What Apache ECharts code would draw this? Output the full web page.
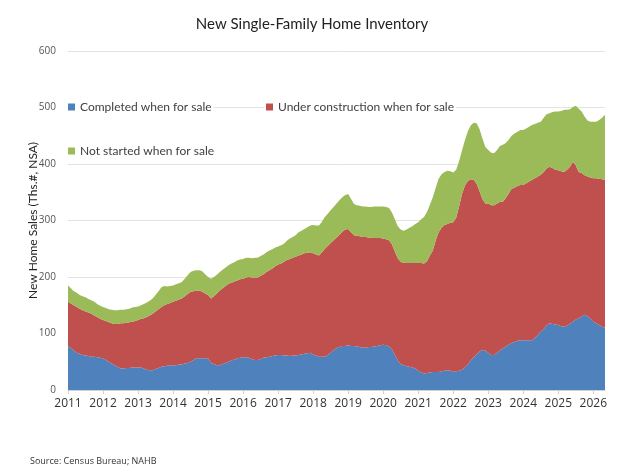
<!DOCTYPE html>
<html>
<head>
<meta charset="utf-8">
<script src="https://cdn.jsdelivr.net/npm/echarts@6/dist/echarts.min.js"></script>
<style>
  html, body { margin: 0; padding: 0; background: #fff; }
  #cnv { width: 624px; height: 472px; }
</style>
</head>
<body>
<div id="cnv"></div>
<script>
// monthly, Jan 2011 .. May 2026 (thousands, NSA)
var completed = [
  78,74,70,66,64,62,61,60,59,59,58,57,
  56,53,50,47,44,41,38,38,39,39,40,40,
  40,40,38,36,35,35,37,39,41,42,43,44,
  44,44,45,45,47,48,50,53,56,56,56,56,
  56,48,46,44,44,46,48,50,52,54,56,57,
  58,58,57,55,53,53,55,57,58,59,60,61,
  62,62,61,61,60,61,61,62,63,64,65,66,
  63,61,59,59,59,62,66,71,74,76,78,78,
  79,78,78,77,76,75,75,76,76,77,78,79,
  80,79,77,72,62,52,46,44,42,41,40,38,
  34,31,29,30,31,32,32,32,33,34,35,34,
  32,33,34,36,40,45,52,58,63,68,71,70,
  66,62,62,66,70,74,77,80,83,85,87,88,
  88,88,88,88,92,98,103,108,114,118,117,116,
  115,113,112,114,117,121,125,127,130,133,131,126,
  121,118,115,112,110
];
var underConstruction = [
  78,79,80,81,80,79,78,77,76,73,71,69,
  68,69,70,71,73,76,80,80,80,81,81,82,
  84,86,89,93,97,100,102,104,106,108,109,110,
  112,114,115,117,119,122,124,122,120,120,118,115,
  112,114,120,127,132,134,136,138,138,138,138,139,
  139,141,143,144,146,146,147,148,151,153,155,158,
  160,162,166,169,172,173,175,176,177,178,178,178,
  179,179,179,185,191,193,194,194,196,199,202,206,
  206,201,196,196,196,196,196,194,193,192,191,190,
  188,188,188,186,183,181,181,181,183,184,185,187,
  191,194,195,198,207,215,233,247,254,258,259,262,
  265,272,291,311,322,325,321,314,302,284,267,260,
  264,265,265,264,263,259,263,268,273,273,274,275,
  275,278,281,284,283,280,278,278,278,277,276,274,
  274,274,274,276,278,283,273,259,254,247,247,250,
  254,257,259,261,262
];
var notStarted = [
  29,27,25,25,24,25,25,24,24,24,23,23,
  23,23,23,24,24,24,24,24,24,24,25,25,
  24,24,25,26,26,27,29,32,35,34,31,30,
  29,29,29,29,31,33,35,36,36,36,36,34,
  32,35,34,33,33,33,33,33,34,34,35,35,
  35,35,34,34,35,35,35,35,35,35,34,33,
  32,32,32,34,36,37,38,41,42,43,45,47,
  50,51,53,54,56,57,58,59,60,61,61,61,
  62,59,55,54,54,54,54,54,55,56,56,56,
  57,57,57,56,57,57,57,57,59,62,65,69,
  72,77,82,87,90,94,93,95,95,94,94,91,
  88,85,80,77,80,88,95,101,107,110,107,100,
  95,93,92,95,99,101,97,95,94,96,96,97,
  97,97,97,97,96,95,94,96,96,95,99,103,
  104,107,110,106,102,97,105,112,109,104,99,99,
  100,100,104,109,115
];
var startYear = 2011;
var yTicks = [0, 100, 200, 300, 400, 500, 600];

var months = [];
for (var i = 0; i < completed.length; i++) {
  months.push((startYear + Math.floor(i / 12)) + '-' + (i % 12 + 1));
}

var myechart = echarts.init(document.getElementById('cnv'));

function area(name, data, color) {
  return {
    name: name, type: 'line', stack: 'inv', data: data,
    showSymbol: false, symbol: 'none',
    lineStyle: { width: 0 },
    itemStyle: { color: color },
    areaStyle: { color: color, opacity: 1 }
  };
}

function leg(name, left, top) {
  return {
    data: [name], left: left, top: top, orient: 'horizontal',
    icon: 'rect', itemWidth: 7, itemHeight: 7, itemGap: 4,
    padding: [1, 2], backgroundColor: '#fff',
    textStyle: { fontFamily: 'Lato', fontSize: 12, color: '#404040' }
  };
}

var option = {
  animation: false,
  title: {
    text: 'New Single-Family Home Inventory',
    left: 'center', top: 12,
    textStyle: { fontFamily: 'Lato', fontSize: 15, fontWeight: 'normal', color: '#222' }
  },
  legend: [
    leg('Completed when for sale', 66, 100),
    leg('Under construction when for sale', 264, 100),
    leg('Not started when for sale', 66, 144)
  ],
  grid: { left: 68, right: 19, top: 51, bottom: 82 },
  xAxis: {
    type: 'category', data: months, boundaryGap: false,
    axisLine: { lineStyle: { color: '#d0d0d0' } },
    axisTick: { interval: function (i) { return i % 12 === 0; }, lineStyle: { color: '#d0d0d0' }, length: 4 },
    axisLabel: {
      interval: function (i) { return i % 12 === 0; },
      formatter: function (v) { return v.split('-')[0]; },
      fontFamily: 'Open Sans', fontSize: 12, color: '#333', margin: 8
    },
    splitLine: { show: false }
  },
  yAxis: {
    type: 'value', min: yTicks[0], max: yTicks[yTicks.length - 1], interval: 100,
    name: 'New Home Sales (Ths.#, NSA)', nameLocation: 'middle', nameGap: 29,
    nameMoveOverlap: false,
    nameTextStyle: { fontFamily: 'Lato', fontSize: 12, color: '#222' },
    axisLine: { show: false }, axisTick: { show: false },
    axisLabel: { fontFamily: 'Open Sans', fontSize: 10, color: '#555', margin: 12 },
    splitLine: { lineStyle: { color: '#e3e3e3' } }
  },
  series: [
    area('Completed when for sale', completed, '#4f81bd'),
    area('Under construction when for sale', underConstruction, '#c0504d'),
    area('Not started when for sale', notStarted, '#9bbb59')
  ],
  graphic: [{
    type: 'text', left: 30, top: 457,
    style: { text: 'Source: Census Bureau; NAHB', fontFamily: 'Open Sans', fontSize: 9, fill: '#333' }
  }]
};
myechart.setOption(option);
</script>
</body>
</html>
